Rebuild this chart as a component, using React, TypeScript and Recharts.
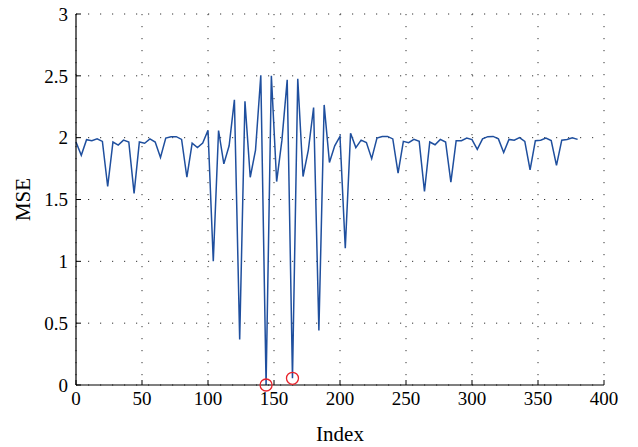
import React from 'react';
import { LineChart, Line, XAxis, YAxis, CartesianGrid, ReferenceDot, Label } from 'recharts';

const indexValues = [
  0, 4, 8, 12, 16, 20, 24, 28, 32, 36, 40, 44, 48, 52, 56, 60, 64, 68, 72, 76,
  80, 84, 88, 92, 96, 100, 104, 108, 112, 116, 120, 124, 128, 132, 136, 140, 144, 148, 152, 156,
  160, 164, 168, 172, 176, 180, 184, 188, 192, 196, 200, 204, 208, 212, 216, 220, 224, 228, 232, 236,
  240, 244, 248, 252, 256, 260, 264, 268, 272, 276, 280, 284, 288, 292, 296, 300, 304, 308, 312, 316,
  320, 324, 328, 332, 336, 340, 344, 348, 352, 356, 360, 364, 368, 372, 376, 380,
];

const mseValues = [
  1.965, 1.857, 1.984, 1.976, 1.99, 1.97, 1.605, 1.965, 1.94, 1.98, 1.965, 1.55, 1.965, 1.955, 1.99, 1.965, 1.84, 1.997, 2.008, 2.008,
  1.986, 1.68, 1.955, 1.92, 1.957, 2.06, 1.0, 2.058, 1.788, 1.934, 2.306, 0.369, 2.295, 1.68, 1.9, 2.505, 0.0, 2.5, 1.645, 1.98,
  2.468, 0.054, 2.476, 1.686, 1.9, 2.244, 0.44, 2.265, 1.8, 1.934, 2.01, 1.106, 2.035, 1.92, 1.98, 1.96, 1.83, 1.997, 2.01, 2.01,
  1.99, 1.714, 1.97, 1.96, 1.986, 1.97, 1.565, 1.965, 1.943, 1.986, 1.965, 1.64, 1.976, 1.976, 1.997, 1.985, 1.905, 1.99, 2.008, 2.01,
  1.99, 1.88, 1.986, 1.98, 2.0, 1.97, 1.74, 1.976, 1.98, 1.997, 1.976, 1.776, 1.98, 1.986, 2.0, 1.986,
];

const markedIndex = [144, 164];
const markedMse = [0.0, 0.054];

const xTicks = [0, 50, 100, 150, 200, 250, 300, 350, 400];
const yTicks = [0, 0.5, 1, 1.5, 2, 2.5, 3];

const data = indexValues.map((idx, i) => ({ idx, mse: mseValues[i] }));

const FONT = '"Liberation Serif", "Times New Roman", serif';
const TICK_FS = 19;
const LABEL_FS = 21;
const TL = 5;

const BottomTick = (p: any) => {
  const { x, y, payload } = p;
  return (
    <g>
      <line x1={x} x2={x} y1={y} y2={y - TL} stroke="#000" strokeWidth={1} />
      <text x={x} y={y + 7} dy="0.71em" textAnchor="middle" fontFamily={FONT} fontSize={TICK_FS} fill="#000">
        {String(payload.value)}
      </text>
    </g>
  );
};

const TopTick = (p: any) => {
  const { x, y } = p;
  return <line x1={x} x2={x} y1={y} y2={y + TL} stroke="#000" strokeWidth={1} />;
};

const LeftTick = (p: any) => {
  const { x, y, payload } = p;
  return (
    <g>
      <line x1={x} x2={x + TL} y1={y} y2={y} stroke="#000" strokeWidth={1} />
      <text x={x - 8} y={y} dy="0.355em" textAnchor="end" fontFamily={FONT} fontSize={TICK_FS} fill="#000">
        {String(payload.value)}
      </text>
    </g>
  );
};

const RightTick = (p: any) => {
  const { x, y } = p;
  return <line x1={x} x2={x - TL} y1={y} y2={y} stroke="#000" strokeWidth={1} />;
};

export default function App() {
  return (
    <div style={{ position: 'absolute', left: 0, top: 0, width: 638, height: 447, background: '#fff' }}>
      <LineChart width={638} height={447} data={data} margin={{ top: 14, right: 34, bottom: 0, left: 0 }}>
        <CartesianGrid
          xAxisId="bottom"
          yAxisId="left"
          stroke="#333"
          strokeWidth={1}
          strokeDasharray="1.2 10.8"
        />
        <XAxis
          xAxisId="bottom"
          dataKey="idx"
          type="number"
          domain={[0, 400]}
          ticks={xTicks}
          interval={0}
          height={62}
          tickSize={0}
          tickMargin={0}
          tick={<BottomTick />}
          axisLine={{ stroke: '#000', strokeWidth: 1.2 }}
          tickLine={false}
        >
          <Label
            content={(lp: any) => {
              const vb = lp.viewBox;
              return (
                <text x={vb.x + vb.width / 2} y={vb.y + 56} textAnchor="middle" fontFamily={FONT} fontSize={LABEL_FS} fill="#000">
                  Index
                </text>
              );
            }}
          />
        </XAxis>
        <XAxis
          xAxisId="top"
          orientation="top"
          dataKey="idx"
          type="number"
          domain={[0, 400]}
          ticks={xTicks}
          interval={0}
          height={0}
          tickSize={0}
          tickMargin={0}
          tick={<TopTick />}
          axisLine={{ stroke: '#000', strokeWidth: 1.2 }}
          tickLine={false}
        />
        <YAxis
          yAxisId="left"
          type="number"
          domain={[0, 3]}
          ticks={yTicks}
          interval={0}
          width={76}
          tickSize={0}
          tickMargin={0}
          tick={<LeftTick />}
          axisLine={{ stroke: '#000', strokeWidth: 1.2 }}
          tickLine={false}
        >
          <Label
            content={(lp: any) => {
              const vb = lp.viewBox;
              const cx = vb.x + 30;
              const cy = vb.y + vb.height / 2;
              return (
                <text x={cx} y={cy} transform={`rotate(-90 ${cx} ${cy})`} textAnchor="middle" fontFamily={FONT} fontSize={LABEL_FS} fill="#000">
                  MSE
                </text>
              );
            }}
          />
        </YAxis>
        <YAxis
          yAxisId="right"
          orientation="right"
          type="number"
          domain={[0, 3]}
          ticks={yTicks}
          interval={0}
          width={0}
          tickSize={0}
          tickMargin={0}
          tick={<RightTick />}
          axisLine={{ stroke: '#000', strokeWidth: 1.2 }}
          tickLine={false}
        />
        <Line
          xAxisId="bottom"
          yAxisId="left"
          type="linear"
          dataKey="mse"
          stroke="#1f4f9e"
          strokeWidth={1.5}
          dot={false}
          isAnimationActive={false}
        />
        {markedIndex.map((mx, i) => (
          <ReferenceDot
            key={mx}
            xAxisId="bottom"
            yAxisId="left"
            x={mx}
            y={markedMse[i]}
            r={6}
            fill="none"
            stroke="#e8232b"
            strokeWidth={1.3}
            ifOverflow="visible"
          />
        ))}
      </LineChart>
    </div>
  );
}
